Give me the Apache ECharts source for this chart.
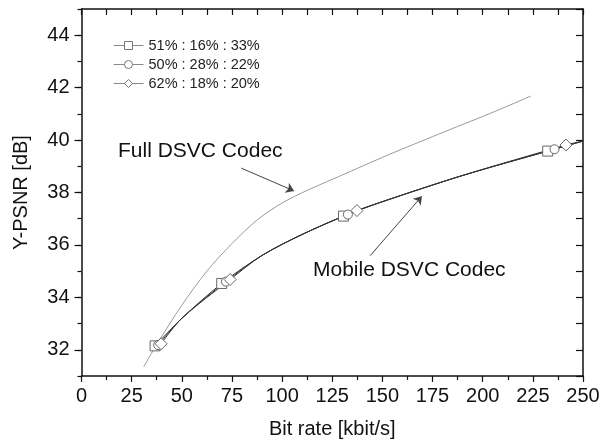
<!DOCTYPE html>
<html>
<head>
<meta charset="utf-8">
<script src="https://cdn.jsdelivr.net/npm/echarts@6/dist/echarts.min.js"></script>
<style>
  html, body { margin: 0; padding: 0; background: #fff; }
  #chart { width: 603px; height: 444px; }
</style>
</head>
<body>
<div id="chart"></div>
<script>
// Full DSVC Codec curve
const fullX = [31, 37.5, 50, 62.5, 75, 87.5, 100, 112.5, 125, 137.5, 150, 162.5, 175, 187.5, 200, 212.5, 224];
const fullY = [31.35, 32.2, 33.7, 35.0, 36.05, 36.95, 37.6, 38.08, 38.5, 38.92, 39.34, 39.74, 40.13, 40.52, 40.9, 41.3, 41.68];

// Mobile DSVC Codec fitted curve, points between markers
const mobCurveX = [50, 90, 110, 150, 190, 250];
const mobCurveY = [33.2, 35.6, 36.4, 37.65, 38.65, 39.96];

// measured points (markers)
const seriesNames = ['51% : 16% : 33%', '50% : 28% : 22%', '62% : 18% : 20%'];
const sqX = [36.7, 69.9, 130.6, 232.4];
const sqY = [32.15, 34.53, 37.1, 39.58];
const ciX = [38.2, 72.0, 132.8, 235.8];
const ciY = [32.18, 34.6, 37.16, 39.65];
const diX = [39.7, 74.1, 137.3, 241.5];
const diY = [32.23, 34.68, 37.31, 39.81];

// axis ticks
const yTicks = [32, 34, 36, 38, 40, 42, 44];

// annotation arrows [from, to] in data units
const fullArrow = [[79.6, 38.93], [106, 38.06]];
const mobileArrow = [[143.9, 35.59], [169.7, 37.86]];

const FONT = "'Liberation Sans', Arial, sans-serif";

function markerData(mx, my) {
    const pts = mx.map((x, i) => ({ value: [x, my[i]] }));
    mobCurveX.forEach((x, i) => pts.push({ value: [x, mobCurveY[i]], symbol: 'none' }));
    pts.sort((a, b) => a.value[0] - b.value[0]);
    return pts;
}

function markerSeries(name, symbol, size, mx, my) {
    return {
        name: name,
        type: 'line',
        data: markerData(mx, my),
        smooth: 0.3,
        symbol: symbol,
        symbolSize: size,
        showAllSymbol: true,
        lineStyle: { color: '#333', width: 1 },
        itemStyle: { color: '#fff', borderColor: '#666', borderWidth: 1 },
        z: 3
    };
}

const chart = echarts.init(document.getElementById('chart'));

const option = {
    animation: false,
    textStyle: { fontFamily: FONT },
    grid: { left: 81.5, right: 20, top: 9, bottom: 66 },
    legend: {
        data: seriesNames,
        orient: 'vertical',
        left: 113,
        top: 38,
        padding: 0,
        itemWidth: 30,
        itemHeight: 10,
        itemGap: 4,
        textStyle: { fontSize: 14.5, color: '#222', lineHeight: 14, fontFamily: FONT },
        lineStyle: { color: '#888', width: 1 },
        itemStyle: { color: '#fff', borderColor: '#777', borderWidth: 1 }
    },
    xAxis: [
        {
            type: 'value', position: 'bottom', min: 0, max: 250, interval: 25,
            name: 'Bit rate [kbit/s]', nameLocation: 'middle', nameGap: 43,
            nameTextStyle: { fontSize: 20, color: '#111', fontFamily: FONT },
            axisLine: { show: true, lineStyle: { color: '#111', width: 1.5 } },
            axisTick: { show: true, inside: false, length: 6, lineStyle: { color: '#111', width: 1.2 } },
            minorTick: { show: true, splitNumber: 2, length: 4, lineStyle: { color: '#111', width: 1.2 } },
            axisLabel: { fontSize: 20, color: '#111', margin: 10, fontFamily: FONT },
            splitLine: { show: false }
        },
        {
            type: 'value', position: 'top', min: 0, max: 250, interval: 12.5,
            axisLine: { show: true, lineStyle: { color: '#111', width: 1.5 } },
            axisTick: { show: true, inside: true, length: 6, lineStyle: { color: '#111', width: 1.2 } },
            axisLabel: { show: false },
            splitLine: { show: false }
        }
    ],
    yAxis: [
        {
            type: 'value', position: 'left', min: 31, max: 45,
            name: 'Y-PSNR [dB]', nameLocation: 'middle', nameGap: 50,
            nameTextStyle: { fontSize: 20, color: '#111', fontFamily: FONT },
            axisLine: { show: true, lineStyle: { color: '#111', width: 1.5 } },
            axisTick: { show: true, customValues: yTicks, length: 7, lineStyle: { color: '#111', width: 1.2 } },
            axisLabel: { customValues: yTicks, fontSize: 20, color: '#111', margin: 12, fontFamily: FONT },
            splitLine: { show: false }
        },
        {
            type: 'value', position: 'left', min: 31, max: 45, interval: 1,
            axisLine: { show: false },
            axisTick: { show: true, length: 4, lineStyle: { color: '#111', width: 1.2 } },
            axisLabel: { show: false },
            splitLine: { show: false }
        },
        {
            type: 'value', position: 'right', min: 31, max: 45, interval: 1,
            axisLine: { show: true, lineStyle: { color: '#111', width: 1.5 } },
            axisTick: { show: true, inside: true, length: 7, lineStyle: { color: '#111', width: 1.2 } },
            axisLabel: { show: false },
            splitLine: { show: false }
        }
    ],
    series: [
        {
            name: 'Full DSVC Codec',
            type: 'line',
            data: fullX.map((x, i) => [x, fullY[i]]),
            smooth: 0.3,
            symbol: 'none',
            lineStyle: { color: '#999', width: 1 },
            z: 2,
            markLine: {
                silent: true,
                symbol: ['none', 'arrow'],
                symbolSize: 8,
                lineStyle: { color: '#444', width: 1, type: 'solid' },
                label: { show: false },
                emphasis: { disabled: true },
                data: [
                    [{ coord: fullArrow[0] }, { coord: fullArrow[1] }],
                    [{ coord: mobileArrow[0] }, { coord: mobileArrow[1] }]
                ]
            }
        },
        markerSeries(seriesNames[0], 'rect', 10, sqX, sqY),
        markerSeries(seriesNames[1], 'circle', 9, ciX, ciY),
        markerSeries(seriesNames[2], 'diamond', 12, diX, diY)
    ],
    graphic: [
        {
            type: 'text', left: 118, top: 141,
            style: { text: 'Full DSVC Codec', fontSize: 21, fill: '#111', fontFamily: FONT }
        },
        {
            type: 'text', left: 313, top: 260,
            style: { text: 'Mobile DSVC Codec', fontSize: 21, fill: '#111', fontFamily: FONT }
        }
    ]
};

chart.setOption(option);
</script>
</body>
</html>
